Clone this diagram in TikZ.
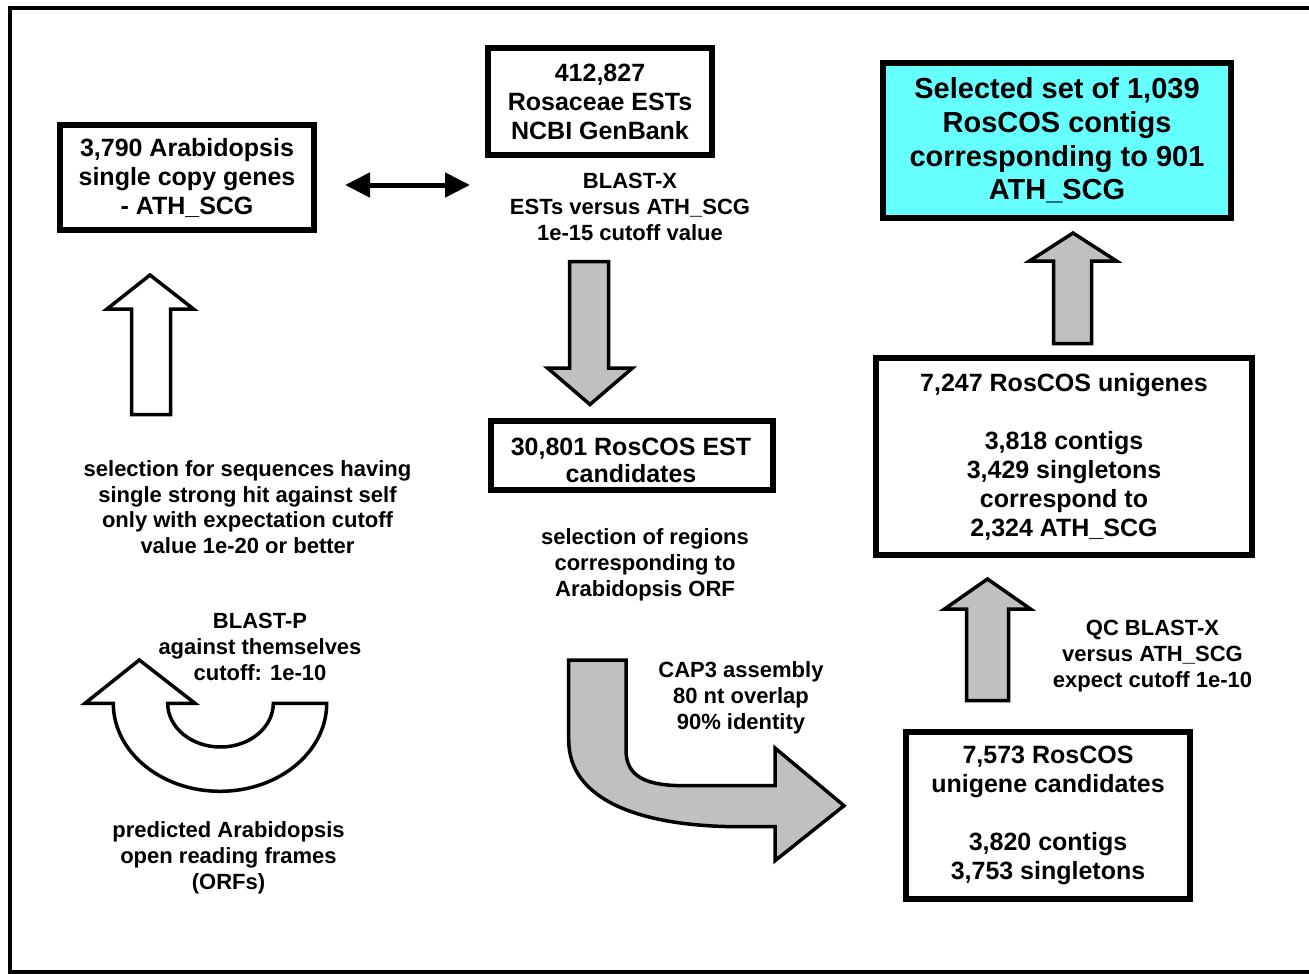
\documentclass[tikz,border=0pt]{standalone}
\usepackage{fontspec}
\setmainfont{Liberation Sans}
\usetikzlibrary{arrows.meta}
\definecolor{arrowgray}{RGB}{192,192,192}
\definecolor{hilite}{RGB}{102,255,255}
\newcommand{\boxfont}{\fontsize{25}{29}\selectfont\bfseries}
\newcommand{\bigboxfont}{\fontsize{29}{33.7}\selectfont\bfseries}
\newcommand{\labfont}{\fontsize{22}{25.7}\selectfont\bfseries}
\begin{document}
\begin{tikzpicture}[x=1pt,y=1pt,
  box/.style={draw, line width=6pt, inner sep=0pt, align=center, font=\boxfont},
  lab/.style={align=center, font=\labfont, inner sep=0pt},
  blockw/.style={draw, line width=3.5pt, fill=white, line join=miter},
  blockg/.style={blockw, fill=arrowgray},
  dbl/.style={line width=5pt, {Triangle[length=25pt,width=24pt]}-{Triangle[length=25pt,width=24pt]}}
]
\useasboundingbox (0,0) rectangle (1309,-974);
% outer frame
\draw[line width=4pt] (10,-8.5) rectangle (1320,-972);

% boxes
\node[box, minimum width=254pt, minimum height=105pt] (a) at (187,-177.5)
  {3,790 Arabidopsis\\single copy genes\\- ATH\_SCG};
\node[box, minimum width=224pt, minimum height=107pt] (b) at (600,-101.5)
  {412,827\\Rosaceae ESTs\\NCBI GenBank};
\node[box, line width=5.5pt, minimum width=282pt, minimum height=69pt] (c) at (632,-455.5) {};
\node[lab, font=\fontsize{25}{27}\selectfont\bfseries] (ctext) at (631,-460.5)
  {30,801 RosCOS EST\\candidates};
\node[box, fill=hilite, font=\bigboxfont, minimum width=348pt, minimum height=155pt] (d) at (1057,-140.5)
  {Selected set of 1,039\\RosCOS contigs\\corresponding to 901\\ATH\_SCG};
\node[box, minimum width=376pt, minimum height=197pt] (e) at (1064,-456.5)
  {7,247 RosCOS unigenes\\\mbox{}\\3,818 contigs\\3,429 singletons\\correspond to\\2,324 ATH\_SCG};
\node[box, minimum width=284pt, minimum height=167pt] (f) at (1048,-815.5)
  {7,573 RosCOS\\unigene candidates\\\mbox{}\\3,820 contigs\\3,753 singletons};

% labels
\node[lab] (lblastx) at (630,-207) {BLAST-X\\ESTs versus ATH\_SCG\\1e-15 cutoff value};
\node[lab] (lsel) at (247.5,-507) {selection for sequences having\\single strong hit against self\\only with expectation cutoff\\value 1e-20 or better};
\node[lab] (lblastp) at (260,-647) {BLAST-P\\against themselves\\cutoff: 1e-10};
\node[lab] (lpred) at (228.5,-858) {predicted Arabidopsis\\open reading frames\\(ORFs)};
\node[lab] (lreg) at (645,-565) {selection of regions\\corresponding to\\Arabidopsis ORF};
\node[lab] (lcap) at (741,-698) {CAP3 assembly\\80 nt overlap\\90\% identity};
\node[lab] (lqc) at (1152.5,-656) {QC BLAST-X\\versus ATH\_SCG\\expect cutoff 1e-10};

% double arrow
\coordinate (dl) at (345,-185);
\coordinate (dr) at (470,-185);
\draw[dbl] (dl) -- (dr);

% white up arrow (left)
\draw[blockw] (131.5,-414.5) -- (170.5,-414.5) -- (170.5,-309) -- (193.5,-309) -- (150,-275)
  -- (107,-309) -- (131.5,-309) -- cycle;

% grey down arrow
\draw[blockg] (569.5,-261.5) -- (608.5,-261.5) -- (608.5,-368) -- (632.5,-368) -- (590,-404.5)
  -- (547.5,-368) -- (569.5,-368) -- cycle;

% grey up arrow to selected set
\draw[blockg] (1053.5,-343.5) -- (1091.5,-343.5) -- (1091.5,-261) -- (1116.5,-261) -- (1073,-233)
  -- (1029.5,-261) -- (1053.5,-261) -- cycle;

% grey up arrow to unigenes
\draw[blockg] (966.5,-700.5) -- (1008.5,-700.5) -- (1008.5,-609) -- (1030.5,-609) -- (987.5,-579)
  -- (944.5,-609) -- (966.5,-609) -- cycle;

% U-turn white arrow
\draw[blockw] (113.3,-703.3) arc[start angle=180, end angle=360, x radius=106.7pt, y radius=88pt]
  -- (273.3,-703.3) arc[start angle=360, end angle=180, x radius=52.8pt, y radius=43.7pt]
  -- (195,-703.3) -- (139.3,-660) -- (85,-703.3) -- cycle;

% curved grey arrow (CAP3)
\draw[blockg] (568.7,-660) -- (626,-660) -- (626,-750)
  .. controls (626,-778) and (648,-785.7) .. (685,-785.7)
  -- (775,-785.7) -- (775,-748) -- (844,-805.7) -- (775,-860.7) -- (775,-826.7) -- (740,-826.7)
  .. controls (640,-826.7) and (568.7,-800) .. (568.7,-740) -- cycle;
\end{tikzpicture}
\end{document}
